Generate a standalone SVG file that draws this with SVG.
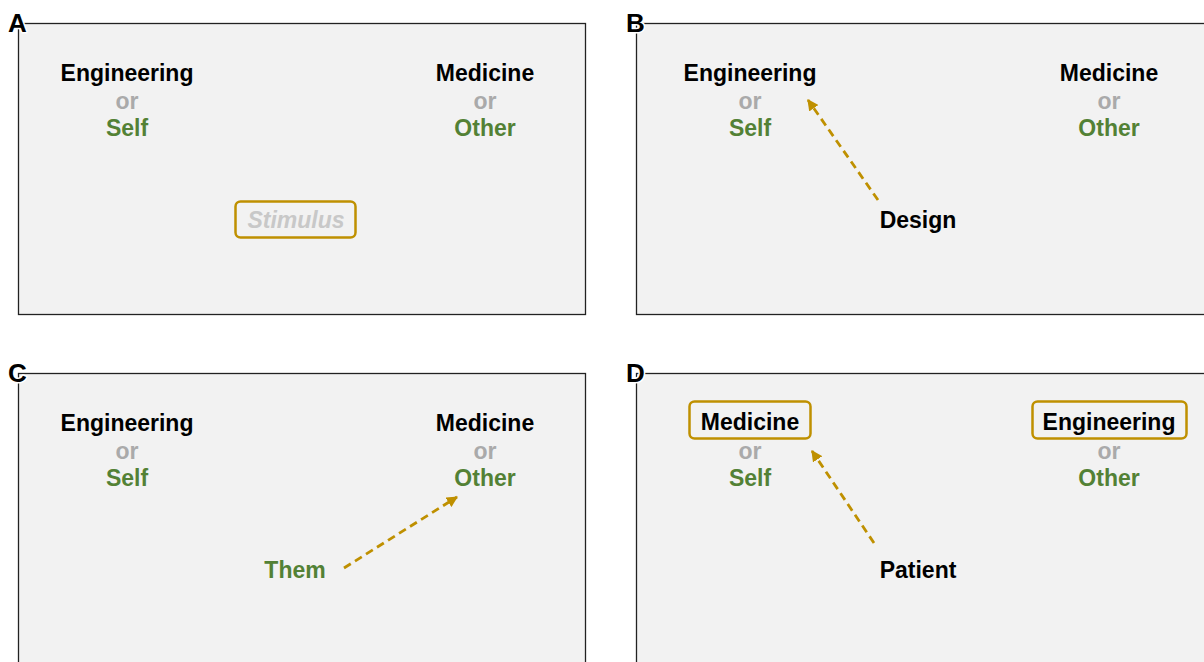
<svg xmlns="http://www.w3.org/2000/svg" width="1204" height="662" viewBox="0 0 1204 662">
<defs>
<marker id="ah" viewBox="0 0 10 10" refX="9" refY="5" markerWidth="4" markerHeight="4" orient="auto" markerUnits="strokeWidth">
<path d="M0,0 L10,5 L0,10 z" fill="#BF9000"/>
</marker>
</defs>
<style>
.panel{fill:#f2f2f2;stroke:#222;stroke-width:1.3}
.lbl{font-family:"Liberation Sans",Arial,sans-serif;font-weight:bold;font-size:26px;fill:#000;stroke:#fff;stroke-width:3;stroke-linejoin:round;paint-order:stroke fill}
.t{font-family:"Liberation Sans",Arial,sans-serif;font-weight:bold;font-size:23px;text-anchor:middle}
.k{fill:#000}
.or{fill:#aaaaaa}
.g{fill:#538135}
.stim{fill:#c8c8c8;font-style:italic}
.box{fill:none;stroke:#BF9000;stroke-width:2.5}
.arr{fill:none;stroke:#BF9000;stroke-width:2.8;stroke-dasharray:8,5;marker-end:url(#ah)}
</style>
<rect width="1204" height="662" fill="#fff"/>
<g id="panelA">
<rect class="panel" x="18.5" y="23.5" width="567" height="291"/>
<text class="lbl" x="8" y="32">A</text>
<text class="t k" x="127" y="81">Engineering</text>
<text class="t or" x="127" y="109">or</text>
<text class="t g" x="127" y="136">Self</text>
<text class="t k" x="485" y="81">Medicine</text>
<text class="t or" x="485" y="109">or</text>
<text class="t g" x="485" y="136">Other</text>
<g id="stimulus">
<rect class="box" x="235.5" y="201.5" width="120" height="36" rx="5"/>
<text class="t stim" x="296" y="228">Stimulus</text>
</g>
</g>
<g id="panelB">
<rect class="panel" x="636.5" y="23.5" width="580" height="291"/>
<text class="lbl" x="626" y="32">B</text>
<text class="t k" x="750" y="81">Engineering</text>
<text class="t or" x="750" y="109">or</text>
<text class="t g" x="750" y="136">Self</text>
<text class="t k" x="1109" y="81">Medicine</text>
<text class="t or" x="1109" y="109">or</text>
<text class="t g" x="1109" y="136">Other</text>
<text class="t k" x="918" y="228">Design</text>
</g>
<g id="panelC">
<rect class="panel" x="18.5" y="373.5" width="567" height="300"/>
<text class="lbl" x="8" y="382">C</text>
<text class="t k" x="127" y="431">Engineering</text>
<text class="t or" x="127" y="459">or</text>
<text class="t g" x="127" y="486">Self</text>
<text class="t k" x="485" y="431">Medicine</text>
<text class="t or" x="485" y="459">or</text>
<text class="t g" x="485" y="486">Other</text>
<text class="t g" x="295" y="578">Them</text>
</g>
<g id="panelD">
<rect class="panel" x="636.5" y="373.5" width="580" height="300"/>
<text class="lbl" x="626" y="382">D</text>
<g id="medBox">
<rect class="box" x="689.5" y="401.5" width="121" height="37" rx="5"/>
<text class="t k" x="750" y="430">Medicine</text>
</g>
<text class="t or" x="750" y="459">or</text>
<text class="t g" x="750" y="486">Self</text>
<g id="engBox">
<rect class="box" x="1032.5" y="401.5" width="154" height="37" rx="5"/>
<text class="t k" x="1109" y="430">Engineering</text>
</g>
<text class="t or" x="1109" y="459">or</text>
<text class="t g" x="1109" y="486">Other</text>
<text class="t k" x="918" y="578">Patient</text>
</g>
<g id="connectors">
<line class="arr" x1="878" y1="200" x2="808" y2="100"/>
<line class="arr" x1="344" y1="568" x2="457" y2="497"/>
<line class="arr" x1="874" y1="543" x2="812" y2="451"/>
</g>
</svg>
